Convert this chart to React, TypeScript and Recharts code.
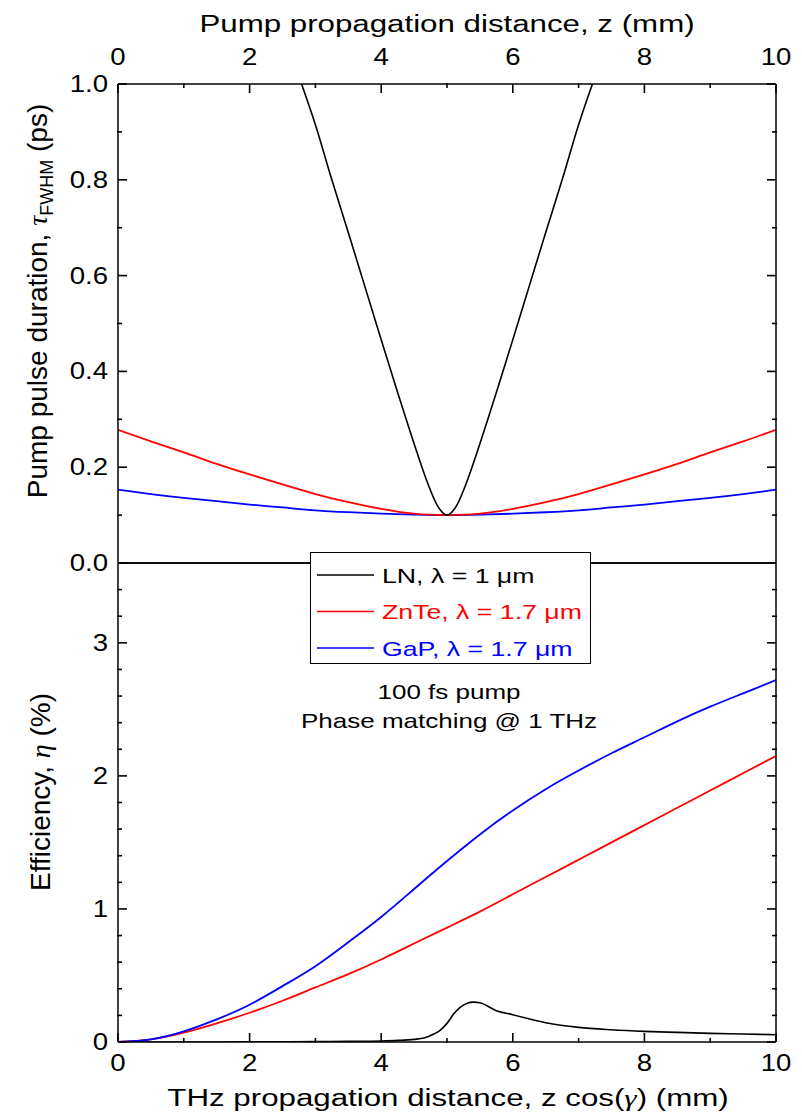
import React from 'react';
import { LineChart, Line, XAxis, YAxis, Legend } from 'recharts';

const SANS = '"Liberation Sans", Arial, sans-serif';
const SERIF = '"Liberation Serif", "Times New Roman", serif';

// ---- tick values ----
const xMajor = [0, 2, 4, 6, 8, 10];
const xMinor = [1, 3, 5, 7, 9];
const topYMajor = [0, 0.2, 0.4, 0.6, 0.8, 1.0];
const topYMinor = [0.1, 0.3, 0.5, 0.7, 0.9];
const botYMajor = [0, 1, 2, 3];
const botYMinor = [0.2, 0.4, 0.6, 0.8, 1.2, 1.4, 1.6, 1.8, 2.2, 2.4, 2.6, 2.8, 3.2, 3.4];

// ---- series names ----
const seriesNames = ['LN, \u03bb = 1 \u03bcm', 'ZnTe, \u03bb = 1.7 \u03bcm', 'GaP, \u03bb = 1.7 \u03bcm'];
const seriesColors = ['#000000', '#ff0000', '#0000ff'];

// ---- top panel: pump pulse duration (ps) vs pump propagation distance z (mm) ----
const zGrid = [0, 0.5, 1, 1.5, 2, 2.5, 3, 3.5, 4, 4.5, 5, 5.5, 6, 6.5, 7, 7.5, 8, 8.5, 9, 9.5, 10];
const tauZnTe = [0.278, 0.254, 0.231, 0.207, 0.185, 0.164, 0.144, 0.127, 0.113, 0.103, 0.100, 0.103, 0.113, 0.127, 0.144, 0.164, 0.185, 0.207, 0.231, 0.254, 0.278];
const tauGaP = [0.153, 0.144, 0.136, 0.129, 0.122, 0.116, 0.110, 0.106, 0.103, 0.101, 0.100, 0.101, 0.103, 0.106, 0.110, 0.116, 0.122, 0.129, 0.136, 0.144, 0.153];
const zLN = [2.79, 3.0, 3.25, 3.5, 3.75, 4.0, 4.25, 4.5, 4.7, 4.85, 4.95, 5.0, 5.05, 5.15, 5.3, 5.5, 5.75, 6.0, 6.25, 6.5, 6.75, 7.0, 7.21];
const tauLN = [1.0, 0.915, 0.80, 0.69, 0.578, 0.466, 0.356, 0.249, 0.169, 0.121, 0.103, 0.100, 0.103, 0.121, 0.169, 0.249, 0.356, 0.466, 0.578, 0.69, 0.80, 0.915, 1.0];

// ---- bottom panel: efficiency (%) vs THz propagation distance (mm) ----
const zEff = [0, 0.5, 1, 1.5, 2, 2.5, 3, 3.5, 4, 4.5, 5, 5.5, 6, 6.5, 7, 7.5, 8, 8.5, 9, 9.5, 10];
const effZnTe = [0, 0.02, 0.07, 0.14, 0.22, 0.31, 0.41, 0.51, 0.62, 0.74, 0.86, 0.98, 1.11, 1.24, 1.37, 1.50, 1.63, 1.76, 1.89, 2.02, 2.15];
const effGaP = [0, 0.02, 0.08, 0.17, 0.28, 0.42, 0.57, 0.75, 0.94, 1.15, 1.36, 1.56, 1.74, 1.90, 2.04, 2.17, 2.29, 2.41, 2.52, 2.62, 2.72];
const zEffLN = [0, 1, 2, 3, 3.5, 4, 4.25, 4.5, 4.65, 4.8, 4.9, 5.0, 5.1, 5.2, 5.3, 5.4, 5.5, 5.75, 6, 6.5, 7, 7.5, 8, 8.5, 9, 9.5, 10];
const effLN = [0, 0, 0.001, 0.003, 0.005, 0.008, 0.012, 0.02, 0.03, 0.06, 0.09, 0.14, 0.21, 0.26, 0.29, 0.30, 0.295, 0.235, 0.205, 0.145, 0.11, 0.092, 0.08, 0.072, 0.065, 0.06, 0.055];

const toPts = (xs: number[], ys: number[]) => xs.map((z, i) => ({ z, v: ys[i] }));

const AX = { stroke: '#000', strokeWidth: 1.5 };
const TL = { stroke: '#000', strokeWidth: 1.6 };
const noLabel = () => <g />;

function XLabel(props: any) {
  const { x, y, payload } = props;
  return (
    <text transform={`translate(${x},${y}) scale(1.2,1)`} textAnchor="middle" fontSize={23} fontFamily={SANS} fill="#000">
      {String(payload.value)}
    </text>
  );
}

function YLabel(props: any) {
  const { x, y, payload, digits } = props;
  return (
    <text transform={`translate(${x},${y + 8}) scale(1.2,1)`} textAnchor="end" fontSize={23} fontFamily={SANS} fill="#000">
      {Number(payload.value).toFixed(digits)}
    </text>
  );
}

function LegendBox() {
  return (
    <svg width={282} height={113} style={{ display: 'block' }}>
      <rect x={0.5} y={0.5} width={280} height={111} fill="#fff" stroke="#000" strokeWidth={1} />
      {seriesNames.map((name, i) => {
        const cy = 23 + i * 36.5;
        return (
          <g key={i}>
            <line x1={7} x2={64} y1={cy} y2={cy} stroke={seriesColors[i]} strokeWidth={1.6} />
            <text transform={`translate(72,${cy + 7.5}) scale(1.27,1)`} fontSize={21} fontFamily={SANS} fill={seriesColors[i]}>
              {name}
            </text>
          </g>
        );
      })}
    </svg>
  );
}

export default function App() {
  return (
    <div style={{ position: 'absolute', left: 0, top: 0, width: 802, height: 1116, background: '#fff' }}>
      {/* Top panel */}
      <div style={{ position: 'absolute', left: 0, top: 0 }}>
        <LineChart width={802} height={580} margin={{ top: 82, right: 24, bottom: 16, left: 116 }}>
          <XAxis xAxisId="t" orientation="top" type="number" dataKey="z" domain={[0, 10]} ticks={xMajor} interval={0}
            height={1} tickSize={-9} tickMargin={28} tickLine={TL} axisLine={AX} allowDataOverflow
            tick={(p: any) => <XLabel {...p} />} />
          <XAxis xAxisId="tm" orientation="top" type="number" dataKey="z" domain={[0, 10]} ticks={xMinor} interval={0}
            height={1} tickSize={-5} tickLine={TL} axisLine={false} tick={noLabel} allowDataOverflow />
          <XAxis xAxisId="b" orientation="bottom" type="number" dataKey="z" domain={[0, 10]} ticks={xMajor} height={1}
            tick={false} tickLine={false} axisLine={AX} allowDataOverflow />
          <YAxis yAxisId="l" orientation="left" type="number" domain={[0, 1]} ticks={topYMajor} interval={0}
            width={1} tickSize={-9} tickMargin={19} tickLine={TL} axisLine={AX} allowDataOverflow
            tick={(p: any) => <YLabel {...p} digits={1} />} />
          <YAxis yAxisId="lm" orientation="left" type="number" domain={[0, 1]} ticks={topYMinor} interval={0}
            width={1} tickSize={-5} tickLine={TL} axisLine={false} tick={noLabel} allowDataOverflow />
          <YAxis yAxisId="r" orientation="right" type="number" domain={[0, 1]} ticks={topYMajor} interval={0}
            width={1} tickSize={-9} tickLine={TL} axisLine={AX} tick={noLabel} allowDataOverflow />
          <YAxis yAxisId="rm" orientation="right" type="number" domain={[0, 1]} ticks={topYMinor} interval={0}
            width={1} tickSize={-5} tickLine={TL} axisLine={false} tick={noLabel} allowDataOverflow />
          <Line xAxisId="t" yAxisId="l" data={toPts(zGrid, tauGaP)} dataKey="v" name={seriesNames[2]} stroke={seriesColors[2]}
            strokeWidth={1.8} dot={false} type="natural" isAnimationActive={false} />
          <Line xAxisId="t" yAxisId="l" data={toPts(zGrid, tauZnTe)} dataKey="v" name={seriesNames[1]} stroke={seriesColors[1]}
            strokeWidth={1.8} dot={false} type="natural" isAnimationActive={false} />
          <Line xAxisId="t" yAxisId="l" data={toPts(zLN, tauLN)} dataKey="v" name={seriesNames[0]} stroke={seriesColors[0]}
            strokeWidth={1.6} dot={false} type="monotone" isAnimationActive={false} />
        </LineChart>
      </div>

      {/* Bottom panel */}
      <div style={{ position: 'absolute', left: 0, top: 540 }}>
        <LineChart width={802} height={576} margin={{ top: 22, right: 24, bottom: 72, left: 116 }}>
          <XAxis xAxisId="b" orientation="bottom" type="number" dataKey="z" domain={[0, 10]} ticks={xMajor} interval={0}
            height={1} tickSize={-9} tickMargin={38} tickLine={TL} axisLine={AX} allowDataOverflow
            tick={(p: any) => <XLabel {...p} />} />
          <XAxis xAxisId="bm" orientation="bottom" type="number" dataKey="z" domain={[0, 10]} ticks={xMinor} interval={0}
            height={1} tickSize={-5} tickLine={TL} axisLine={false} tick={noLabel} allowDataOverflow />
          <XAxis xAxisId="t" orientation="top" type="number" dataKey="z" domain={[0, 10]} ticks={xMajor} height={1}
            tick={false} tickLine={false} axisLine={AX} allowDataOverflow />
          <YAxis yAxisId="l" orientation="left" type="number" domain={[0, 3.6]} ticks={botYMajor} interval={0}
            width={1} tickSize={-9} tickMargin={19} tickLine={TL} axisLine={AX} allowDataOverflow
            tick={(p: any) => <YLabel {...p} digits={0} />} />
          <YAxis yAxisId="lm" orientation="left" type="number" domain={[0, 3.6]} ticks={botYMinor} interval={0}
            width={1} tickSize={-5} tickLine={TL} axisLine={false} tick={noLabel} allowDataOverflow />
          <YAxis yAxisId="r" orientation="right" type="number" domain={[0, 3.6]} ticks={botYMajor} interval={0}
            width={1} tickSize={-9} tickLine={TL} axisLine={AX} tick={noLabel} allowDataOverflow />
          <YAxis yAxisId="rm" orientation="right" type="number" domain={[0, 3.6]} ticks={botYMinor} interval={0}
            width={1} tickSize={-5} tickLine={TL} axisLine={false} tick={noLabel} allowDataOverflow />
          <Line xAxisId="b" yAxisId="l" data={toPts(zEffLN, effLN)} dataKey="v" name={seriesNames[0]} stroke={seriesColors[0]}
            strokeWidth={1.6} dot={false} type="monotone" isAnimationActive={false} />
          <Line xAxisId="b" yAxisId="l" data={toPts(zEff, effZnTe)} dataKey="v" name={seriesNames[1]} stroke={seriesColors[1]}
            strokeWidth={1.8} dot={false} type="natural" isAnimationActive={false} />
          <Line xAxisId="b" yAxisId="l" data={toPts(zEff, effGaP)} dataKey="v" name={seriesNames[2]} stroke={seriesColors[2]}
            strokeWidth={1.8} dot={false} type="natural" isAnimationActive={false} />
          <Legend layout="vertical" align="center" verticalAlign="middle" content={() => <LegendBox />}
            wrapperStyle={{ position: 'absolute', left: 310, top: 12, width: 282, height: 113 }} />
        </LineChart>
      </div>

      {/* Titles and annotation */}
      <svg width={802} height={1116} style={{ position: 'absolute', left: 0, top: 0, pointerEvents: 'none' }}>
        <text transform="translate(447,32) scale(1.36,1)" textAnchor="middle" fontSize={23} fontFamily={SANS} fill="#000">
          Pump propagation distance, z (mm)
        </text>
        <text transform="translate(448,1106) scale(1.36,1)" textAnchor="middle" fontSize={23} fontFamily={SANS} fill="#000">
          THz propagation distance, z cos(<tspan fontFamily={SERIF} fontStyle="italic">{'\u03b3'}</tspan>) (mm)
        </text>
        <text transform="translate(47,301) rotate(-90)" textAnchor="middle" fontSize={28} fontFamily={SANS} fill="#000">
          Pump pulse duration, <tspan fontFamily={SERIF} fontStyle="italic">{'\u03c4'}</tspan>
          <tspan fontSize={18} dy={6}>FWHM</tspan>
          <tspan dy={-6}> (ps)</tspan>
        </text>
        <text transform="translate(50,792) rotate(-90)" textAnchor="middle" fontSize={28} fontFamily={SANS} fill="#000">
          Efficiency, <tspan fontFamily={SERIF} fontStyle="italic">{'\u03b7'}</tspan> (%)
        </text>
        <text transform="translate(449,699) scale(1.3,1)" textAnchor="middle" fontSize={20} fontFamily={SANS} fill="#000">
          100 fs pump
        </text>
        <text transform="translate(449,728) scale(1.3,1)" textAnchor="middle" fontSize={20} fontFamily={SANS} fill="#000">
          Phase matching @ 1 THz
        </text>
      </svg>
    </div>
  );
}
